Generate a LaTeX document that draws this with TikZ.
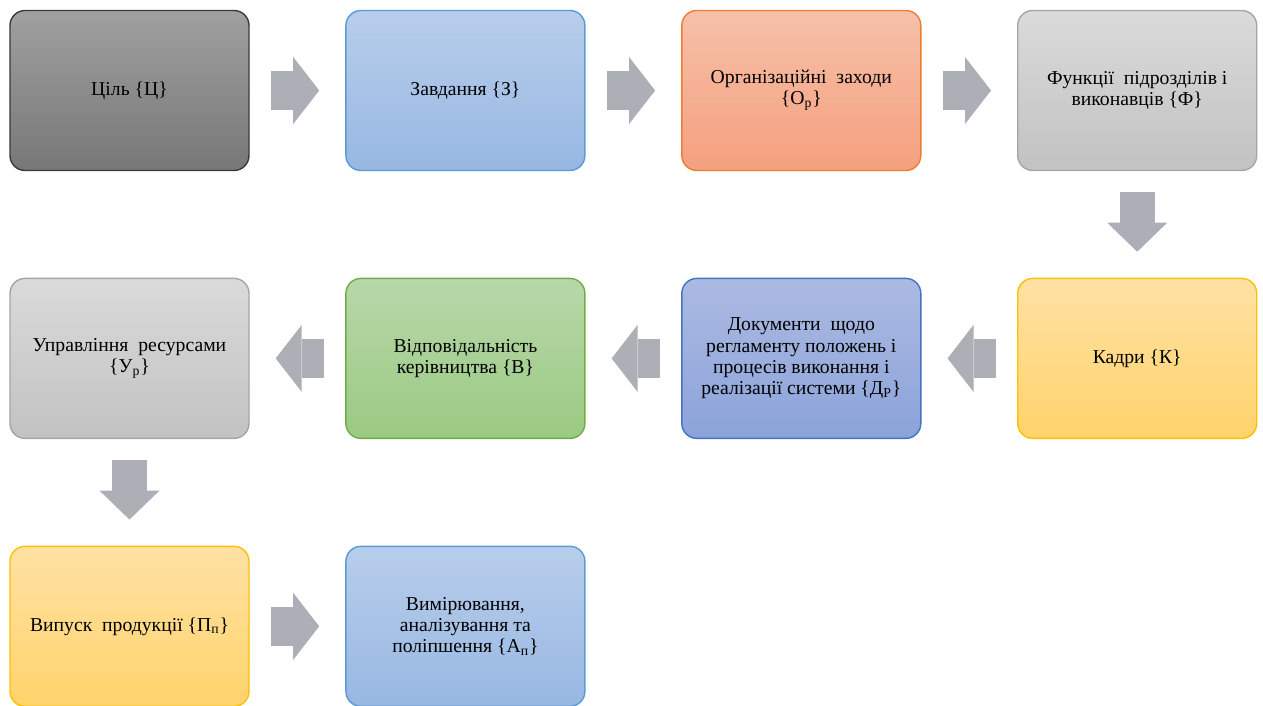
\documentclass[tikz,border=0pt]{standalone}
\usepackage{fontspec}
\setmainfont{Liberation Serif}
\usetikzlibrary{arrows.meta, positioning}
\definecolor{cdark}{HTML}{3A3A3A}
\definecolor{cdarkT}{HTML}{A0A0A0}
\definecolor{cdarkB}{HTML}{777777}
\definecolor{cblue}{HTML}{5B9BD5}
\definecolor{cblueT}{HTML}{B8CEEB}
\definecolor{cblueB}{HTML}{97B7E2}
\definecolor{corange}{HTML}{ED7D31}
\definecolor{corangeT}{HTML}{F7C0A9}
\definecolor{corangeB}{HTML}{F4A07E}
\definecolor{cgrey}{HTML}{A5A5A5}
\definecolor{cgreyT}{HTML}{DADADA}
\definecolor{cgreyB}{HTML}{C2C2C2}
\definecolor{cyellow}{HTML}{FFC000}
\definecolor{cyellowT}{HTML}{FFE1A4}
\definecolor{cyellowB}{HTML}{FFD36B}
\definecolor{cindigo}{HTML}{4472C4}
\definecolor{cindigoT}{HTML}{ACBAE2}
\definecolor{cindigoB}{HTML}{8BA3DA}
\definecolor{cgreen}{HTML}{70AD47}
\definecolor{cgreenT}{HTML}{B8D7AA}
\definecolor{cgreenB}{HTML}{9ACA82}
\definecolor{carrow}{HTML}{ACAFB6}
\tikzset{
  every picture/.style={font=\fontsize{11.2}{12.1}\selectfont},
  box/.style={draw=#1, top color=#1T, bottom color=#1B, rounded corners=0.3cm, line width=0.8pt,
    minimum width=4.78cm, minimum height=3.2cm, align=center, inner sep=2pt},
  box/.default=cgrey,
  flow/.style={draw=carrow, line width=0.78cm, -{Triangle[length=0.52cm, width=1.34cm, line width=0pt]},
    shorten <=0.42cm, shorten >=0.52cm},
  vflow/.style={flow, line width=0.7cm, -{Triangle[length=0.58cm, width=1.2cm, line width=0pt]}},
}

\begin{document}
\begin{tikzpicture}[node distance=2.13cm and 1.91cm]
  \useasboundingbox (0,0) rectangle (25.26,-14.12);
  % first row
  \node[box=cdark] (goal) at (2.59,-1.81) {Ціль \{Ц\}};
  \node[box=cblue, right=of goal] (task) {Завдання \{З\}};
  \node[box=corange, right=of task] (org) {Організаційні\ \ заходи\\\{О\textsubscript{р}\}};
  \node[box=cgrey, right=of org] (func) {Функції\ \ підрозділів і\\виконавців \{Ф\}};
  \foreach \a/\b in {goal/task, task/org, org/func} \draw[flow] (\a) -- (\b);
  % second row, right to left
  \node[box=cyellow, below=of func] (staff) {Кадри \{К\}};
  \node[box=cindigo, left=of staff] (docs) {Документи\ \ щодо\\регламенту положень і\\процесів виконання і\\реалізації системи \{Д\textsubscript{Р}\}};
  \node[box=cgreen, left=of docs] (resp) {Відповідальність\\керівництва \{В\}};
  \node[box=cgrey, left=of resp] (res) {Управління\ \ ресурсами\\\{У\textsubscript{р}\}};
  \draw[vflow] (func) -- (staff);
  \foreach \a/\b in {staff/docs, docs/resp, resp/res} \draw[flow] (\a) -- (\b);
  % third row
  \node[box=cyellow, below=of res] (prod) {Випуск\ \ продукції \{П\textsubscript{п}\}};
  \node[box=cblue, right=of prod] (meas) {Вимірювання,\\аналізування та\\поліпшення \{А\textsubscript{п}\}};
  \draw[vflow] (res) -- (prod);
  \draw[flow] (prod) -- (meas);
\end{tikzpicture}
\end{document}
